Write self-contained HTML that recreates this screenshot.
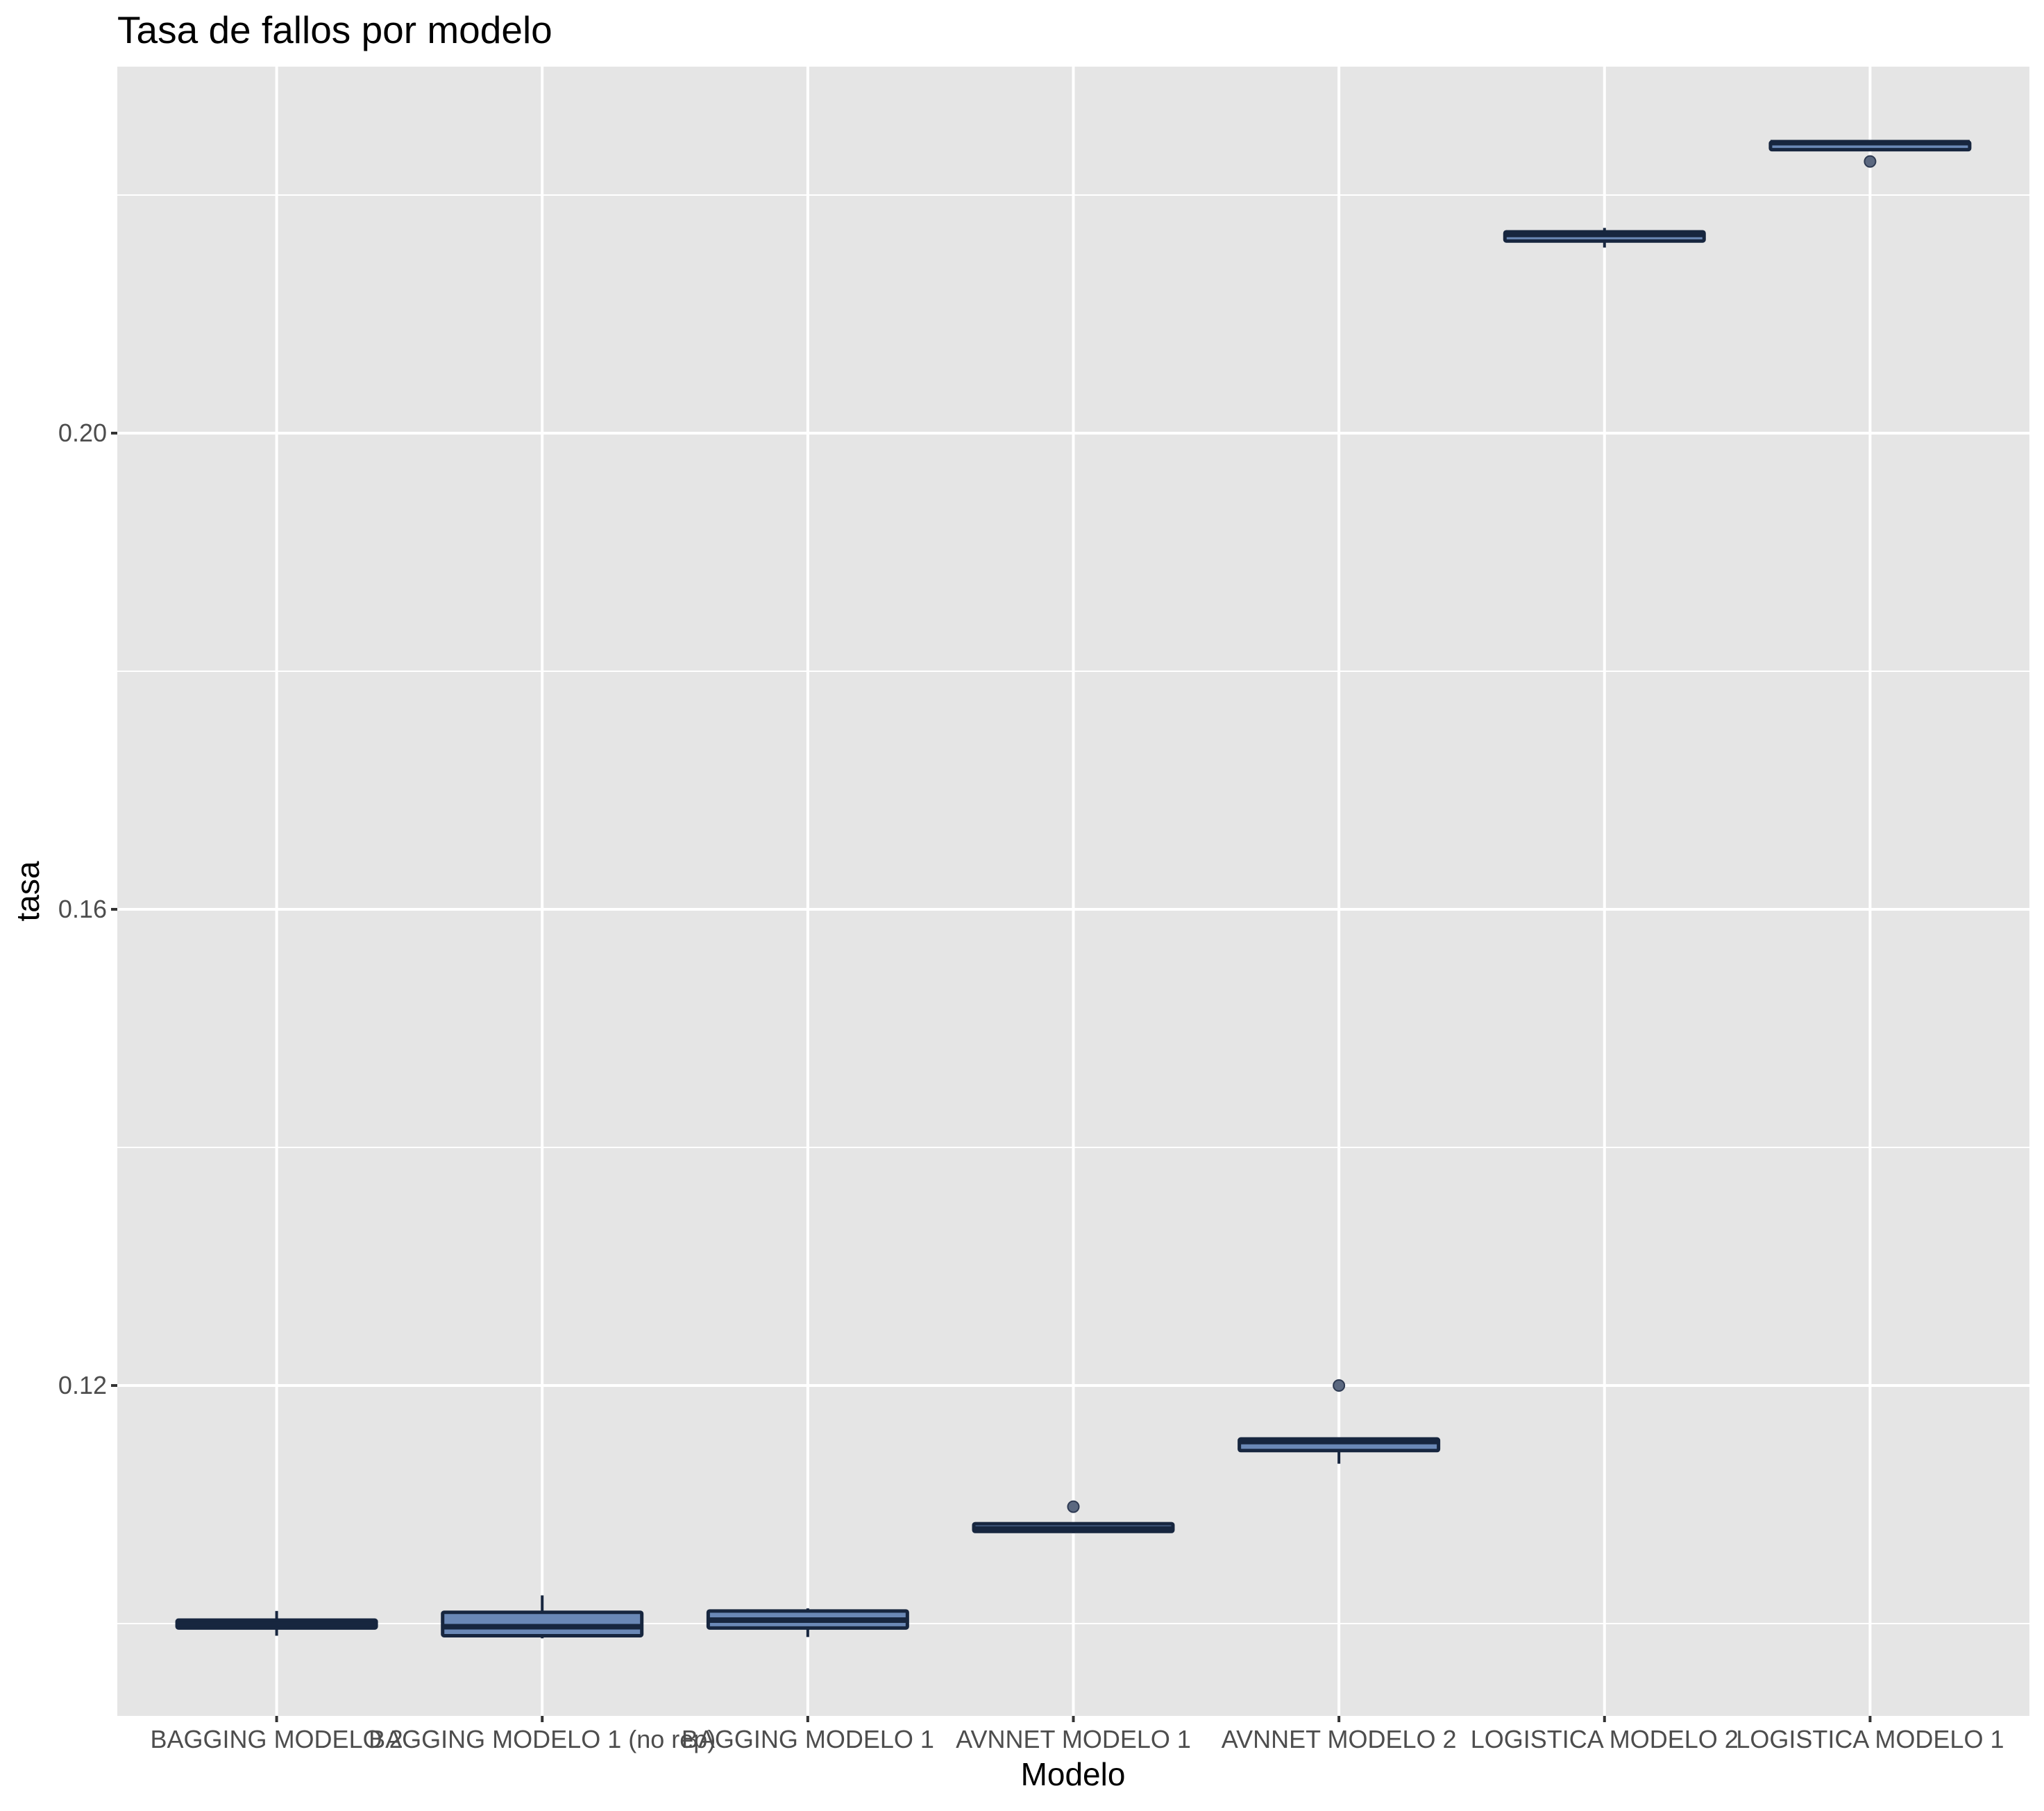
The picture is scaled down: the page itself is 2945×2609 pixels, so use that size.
<!DOCTYPE html>
<html><head><meta charset="utf-8"><style>
html,body{margin:0;padding:0;background:#fff;}
svg text{font-family:"Liberation Sans",sans-serif;}
</style></head><body>
<svg id="chart" width="2945" height="2604" xmlns="http://www.w3.org/2000/svg">
<rect width="2945" height="2604" fill="#fff"/>
<text x="169" y="62" font-size="55" fill="#000">Tasa de fallos por modelo</text>
<rect x="169" y="96" width="2755" height="2376" fill="#e5e5e5"/>
<g id="grid"></g><g id="marks"></g><g id="axes"></g>
<text x="1546" y="2572" font-size="46" text-anchor="middle" fill="#000">Modelo</text>
<text transform="translate(56,1284) rotate(-90)" font-size="46" text-anchor="middle" fill="#000">tasa</text>
</svg>
<script>
const categories=["BAGGING MODELO 2","BAGGING MODELO 1 (no rep)","BAGGING MODELO 1","AVNNET MODELO 1","AVNNET MODELO 2","LOGISTICA MODELO 2","LOGISTICA MODELO 1"];
const whiskerLow=[0.09898,0.09876,0.09887,0.10760,0.11343,0.21559,0.22381];
const q1=[0.09963,0.09898,0.09963,0.10774,0.11453,0.21614,0.22381];
const medians=[0.09996,0.09974,0.10029,0.10796,0.11529,0.21669,0.22440];
const q3=[0.10029,0.10095,0.10106,0.10839,0.11551,0.21691,0.22446];
const whiskerHigh=[0.10106,0.10237,0.10128,0.10850,0.11551,0.21724,0.22446];
const outliers=[[],[],[],[0.10982],[0.12],[],[0.22282]];
const majorTicks=[0.12,0.16,0.20];
const tickLabels=["0.12","0.16","0.20"];
const minorTicks=[0.10,0.14,0.18,0.22];

const L=169,T=96,W=2755,H=2376;
function y(v){return 1996-(v-0.12)*17150;}
const step=W/(categories.length+0.2);
function x(i){return L+step*(i+0.6);}
const NS="http://www.w3.org/2000/svg";
function mk(tag,attrs,parent){const e=document.createElementNS(NS,tag);for(const k in attrs)e.setAttribute(k,attrs[k]);parent.appendChild(e);return e;}
const grid=document.getElementById('grid'),marks=document.getElementById('marks'),axes=document.getElementById('axes');
minorTicks.forEach(v=>{const l=mk('line',{x1:L,x2:L+W,y1:y(v),y2:y(v),stroke:'#fff','stroke-width':2},grid);

});
majorTicks.forEach((v,i)=>{const l=mk('line',{x1:L,x2:L+W,y1:y(v),y2:y(v),stroke:'#fff','stroke-width':4},grid);


const t=mk('line',{x1:L-9,x2:L,y1:y(v),y2:y(v),stroke:'#333','stroke-width':4},axes);


const tx=mk('text',{x:L-15,y:y(v)+12,'font-size':36,'text-anchor':'end',fill:'#4d4d4d'},axes);tx.textContent=tickLabels[i];

});
categories.forEach((c,i)=>{const cx=x(i);
const g=mk('line',{x1:cx,x2:cx,y1:T,y2:T+H,stroke:'#fff','stroke-width':4},grid);


const t=mk('line',{x1:cx,x2:cx,y1:T+H,y2:T+H+9,stroke:'#333','stroke-width':4},axes);


const tx=mk('text',{x:cx,y:T+H+46,'font-size':36,'text-anchor':'middle',fill:'#4d4d4d'},axes);tx.textContent=c;


const bw=step*0.75;
const wl=mk('line',{x1:cx,x2:cx,y1:y(whiskerHigh[i]),y2:y(whiskerLow[i]),stroke:'#17263f','stroke-width':4},marks);


const b=mk('rect',{x:cx-bw/2,y:y(q3[i]),width:bw,height:Math.max(1,y(q1[i])-y(q3[i])),fill:'#6a88b6',stroke:'#17263f','stroke-width':5,rx:2},marks);


const m=mk('line',{x1:cx-bw/2,x2:cx+bw/2,y1:y(medians[i]),y2:y(medians[i]),stroke:'#17263f','stroke-width':8},marks);


outliers[i].forEach(o=>{const p=mk('circle',{cx:cx,cy:y(o),r:8,fill:'#5b6880',stroke:'#2e3a52','stroke-width':2},marks);

});
});
</script>
</body></html>
